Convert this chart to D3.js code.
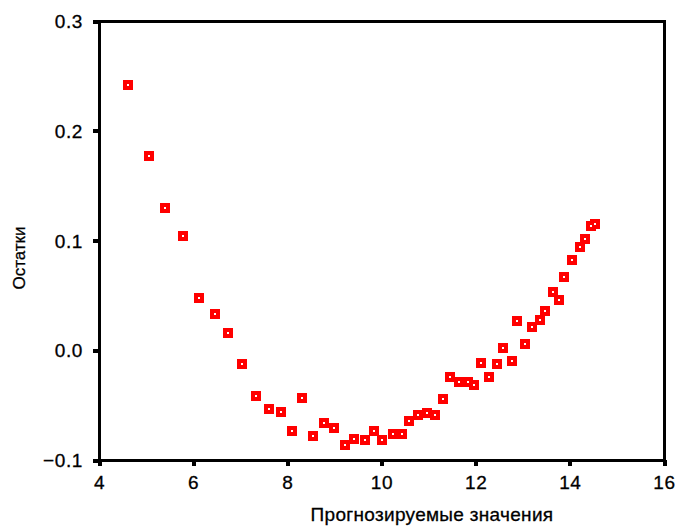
<!DOCTYPE html>
<html>
<head>
<meta charset="utf-8">
<script src="https://cdn.jsdelivr.net/npm/d3@7"></script>
<style>
  body { margin: 0; background: #fff; }
  text { font-family: "Liberation Sans", Arial, sans-serif; fill: #000; }
</style>
</head>
<body>
<div class="chart"></div>
<script>
// predicted values (x) and residuals (y)
const predicted = [4.62, 5.06, 5.40, 5.78, 6.13, 6.47, 6.75, 7.04, 7.34, 7.60,
  7.87, 8.10, 8.32, 8.55, 8.78, 9.00, 9.23, 9.42, 9.66, 9.84,
  10.00, 10.25, 10.43, 10.59, 10.78, 10.97, 11.14, 11.31, 11.46, 11.65,
  11.83, 11.96, 12.11, 12.28, 12.46, 12.58, 12.78, 12.88, 13.05, 13.20,
  13.36, 13.48, 13.64, 13.76, 13.87, 14.04, 14.21, 14.33, 14.44, 14.53];
const residuals = [0.242, 0.177, 0.130, 0.1045, 0.0477, 0.0327, 0.016, -0.0129, -0.0417, -0.0532,
  -0.0562, -0.0733, -0.0432, -0.0778, -0.066, -0.0706, -0.0865, -0.0805, -0.0817, -0.0733,
  -0.082, -0.0763, -0.0763, -0.0649, -0.0586, -0.0574, -0.0588, -0.0444, -0.0243, -0.0286,
  -0.0286, -0.0315, -0.0114, -0.024, -0.0126, 0.002, -0.0099, 0.0264, 0.0057, 0.0216,
  0.0276, 0.036, 0.0534, 0.0462, 0.0667, 0.082, 0.094, 0.101, 0.113, 0.1153];
const xTicks = [4, 6, 8, 10, 12, 14, 16];
const yTicks = [-0.1, 0.0, 0.1, 0.2, 0.3];

const data = predicted.map((p, i) => ({x: p, y: residuals[i]}));

const W = 676, H = 526;
const margin = {left: 99, right: 664, top: 21, bottom: 460};

const svg = d3.select(".chart").append("svg")
    .attr("width", W)
    .attr("height", H)
    .attr("shape-rendering", "crispEdges");

const xScale = d3.scaleLinear().domain([4, 16]).range([margin.left, margin.right]);
const yScale = d3.scaleLinear().domain([-0.1, 0.3]).range([margin.bottom, margin.top]);

// frame (top + right)
svg.append("path")
    .attr("d", `M${margin.left},${margin.top}H${margin.right}V${margin.bottom}`)
    .attr("fill", "none")
    .attr("stroke", "#000")
    .attr("stroke-width", 3);

const yAxis = d3.axisLeft(yScale)
    .tickValues(yTicks)
    .tickFormat(d3.format(".1f"))
    .tickSize(6)
    .tickPadding(10);

const gy = svg.append("g")
    .attr("transform", `translate(${margin.left},0)`)
    .call(yAxis);
gy.select(".domain").attr("stroke-width", 3);
gy.selectAll(".tick line").attr("stroke-width", 4);
gy.selectAll(".tick text")
    .style("font-size", "19px")
    .style("letter-spacing", "0.6px")
    .style("stroke", "#000").style("stroke-width", 0.3)
    .attr("dy", "0.35em");

const xAxis = d3.axisBottom(xScale)
    .tickValues(xTicks)
    .tickSize(6)
    .tickPadding(10);

const gx = svg.append("g")
    .attr("transform", `translate(0,${margin.bottom})`)
    .call(xAxis);
gx.select(".domain").attr("stroke-width", 3);
gx.selectAll(".tick line").attr("stroke-width", 4);
gx.selectAll(".tick text")
    .style("font-size", "19px")
    .style("letter-spacing", "0.6px")
    .style("stroke", "#000").style("stroke-width", 0.3);

// markers
const s = 10;
svg.selectAll("rect.pt")
    .data(data)
    .enter()
    .append("rect")
    .attr("class", "pt")
    .attr("x", d => Math.round(xScale(d.x) - s / 2))
    .attr("y", d => Math.round(yScale(d.y) - s / 2))
    .attr("width", s)
    .attr("height", s)
    .attr("fill", "#ff0000");

svg.selectAll("rect.hole")
    .data(data)
    .enter()
    .append("rect")
    .attr("class", "hole")
    .attr("x", d => Math.round(xScale(d.x) - 1))
    .attr("y", d => Math.round(yScale(d.y) - 1))
    .attr("width", 2)
    .attr("height", 2)
    .attr("fill", "#fff");

// axis titles
svg.append("text")
    .attr("x", 432)
    .attr("y", 521)
    .attr("text-anchor", "middle")
    .style("font-size", "19px")
    .style("letter-spacing", "0.3px")
    .style("stroke", "#000").style("stroke-width", 0.3)
    .text("Прогнозируемые значения");

svg.append("text")
    .attr("transform", "translate(25,258) rotate(-90)")
    .attr("text-anchor", "middle")
    .style("font-size", "17px")
    .style("stroke", "#000").style("stroke-width", 0.3)
    .text("Остатки");
</script>
</body>
</html>
